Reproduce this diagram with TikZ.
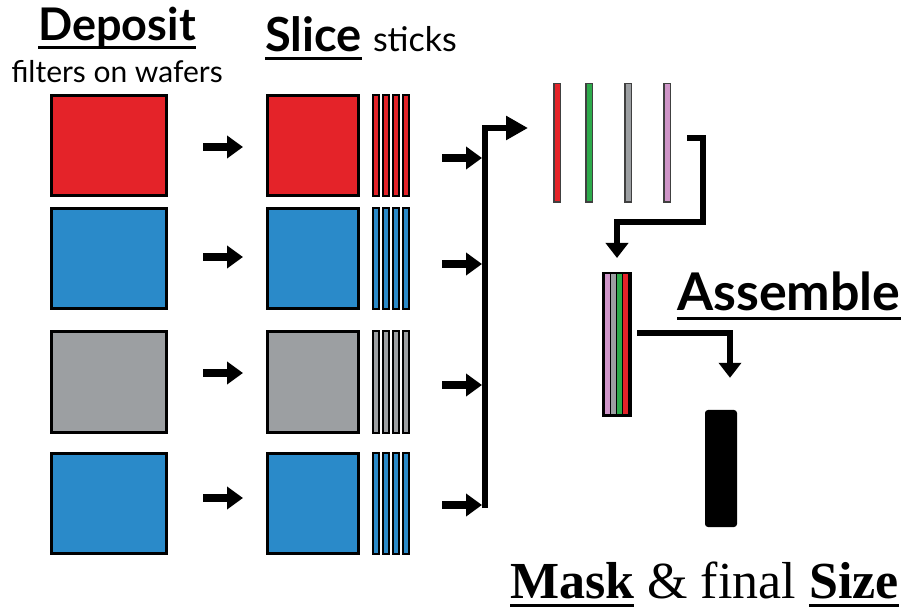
\documentclass[tikz,border=0pt]{standalone}
\usepackage{fontspec}
\setmainfont{Liberation Serif}
\setsansfont{Lato}
\usetikzlibrary{
  arrows.meta,
  calc,
  positioning
}
\definecolor{wred}{HTML}{E42329}
\definecolor{wblue}{HTML}{2A8AC9}
\definecolor{wgray}{HTML}{9C9FA2}
\definecolor{wgreen}{HTML}{2DAA4B}
\definecolor{wpink}{HTML}{CF95C8}

% underline with a rule that scales with the font
\newcommand\ulword[1]{\setbox0\hbox{#1}\rlap{\rule[-0.17em]{\wd0}{0.06em}}\box0\relax}

\begin{document}
\begin{tikzpicture}[
  x=1pt, y=-1pt,
  font=\sffamily,
  wafer/.style={
    draw=black,
    line width=3pt,
    minimum width=115pt,
    minimum height=100pt,
    inner sep=0pt
  },
  cut/.style={
    wafer,
    minimum width=91pt
  },
  stick/.style={
    draw=black,
    line width=2pt,
    minimum width=6pt,
    minimum height=101pt,
    inner sep=0pt
  },
  loose/.style={
    draw=black!75,
    line width=1.5pt,
    minimum width=6.5pt,
    minimum height=118.5pt,
    inner sep=0pt
  },
  fat/.style={
    line width=8pt,
    -{Triangle[length=16pt,width=22pt]}
  },
  bus/.style={
    line width=6pt,
    -{Triangle[length=22pt,width=23pt]}
  },
  elbow/.style={
    line width=6pt,
    -{Triangle[length=15pt,width=22pt]}
  },
  head/.style={
    font=\sffamily\bfseries\fontsize{45}{48}\selectfont,
    anchor=base,
    inner sep=0pt
  },
  note/.style={
    font=\sffamily\fontsize{30}{33}\selectfont,
    anchor=base,
    inner sep=0pt
  }
]
\useasboundingbox (0,0) rectangle (913,609);

% Wafers, cut wafers and their sticks
\foreach \r/\y/\c/\a/\b in {1/146/wred/147/158, 2/259/wblue/257/264, 3/382/wgray/373/385, 4/503/wblue/498/505}{
  \node[wafer, fill=\c] (w\r) at (109,\y) {};
  \node[cut, fill=\c, right=98pt of w\r] (c\r) {};
  \foreach \k in {1,...,4}
    \node[stick, fill=\c] (s\r\k) at (366+10*\k,\y) {};
  \draw[fat, shorten <=35pt, shorten >=23pt] (w\r.east |- 0,\a) -- (c\r.west |- 0,\a);
  \draw[fat, shorten <=32pt, shorten >=3pt] (s\r4.east |- 0,\b) -- (485,\b);
}

% Loose sticks
\foreach \k/\x/\c in {1/557/wred, 2/589/wgreen, 3/628/wgray, 4/667/wpink}
  \node[loose, fill=\c] (ls\k) at (\x,143) {};

% Collecting bus
\coordinate (busbot) at (485,508);
\coordinate (bustop) at (485,128);
\draw[bus, shorten >=25pt] (busbot) -- (bustop) -- (ls1.west |- bustop);

% Assembled stack
\foreach \k/\c in {0/wpink, 1/wgray, 2/wgreen, 3/wred}
  \filldraw[fill=\c, draw=black, line width=1.2pt] (604+6.25*\k,273) rectangle ++(6.25,143);
\node[draw=black, line width=2.5pt, minimum width=27.5pt, minimum height=142.5pt, inner sep=0pt] (stack) at (617,344.5) {};

% Final masked rod
\node[fill=black, rounded corners=3pt, minimum width=32pt, minimum height=117pt, inner sep=0pt] (rod) at (721,468.5) {};

\draw[elbow, shorten >=14pt] ($(ls4.east)+(16,-5)$) -| ($(ls4.east)+(32,79)$) -| (stack.north);
\draw[elbow, shorten >=32pt] ($(stack.east)+(5,-11.5)$) -| ([xshift=9pt]rod.north);

% Labels
\node[head] (deposit) at (117,41) {\ulword{Deposit}};
\node[note] (filters) at (117,83) {filters on wafers};
\node[head, font=\sffamily\bfseries\fontsize{47}{50}\selectfont, anchor=base west] (slice) at (265,52) {\ulword{Slice} {\mdseries\fontsize{34}{38}\selectfont sticks}};
\node[head, font=\sffamily\bfseries\fontsize{52}{56}\selectfont, anchor=base west] (assemble) at (677,311) {\ulword{Assemble}};
\node[anchor=base west, font=\rmfamily\fontsize{52}{56}\selectfont, inner sep=0pt] (mask) at (510,598) {\ulword{\bfseries Mask} \& final \ulword{\bfseries Size}};

\end{tikzpicture}
\end{document}
